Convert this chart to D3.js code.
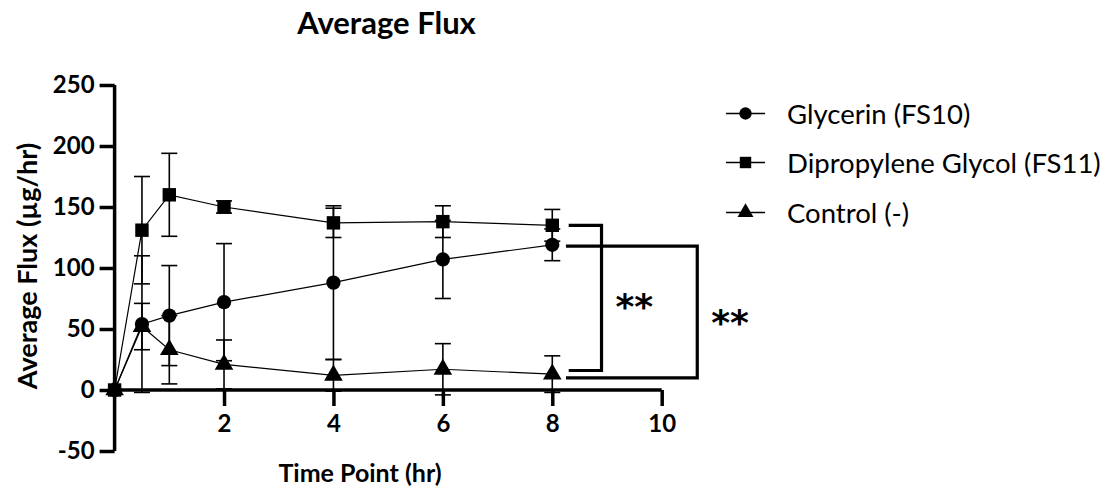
<!DOCTYPE html>
<html><head><meta charset="utf-8">
<script src="https://cdn.jsdelivr.net/npm/d3@7"></script>
<style>
html,body{margin:0;padding:0;background:#fff;}
svg{display:block;font-family:Lato,"Open Sans",sans-serif;}
</style></head>
<body>
<svg id="chart" width="1119" height="491"></svg>
<script>
const timePoints = [0, 0.5, 1, 2, 4, 6, 8];
const seriesNames = ["Glycerin (FS10)", "Dipropylene Glycol (FS11)", "Control (-)"];
const glycerin    = [0, 54, 61, 72, 88, 107, 119];
const glycerinErr = [0, 56, 41, 48, 63, 32, 13];
const dpg         = [0, 131, 160, 150, 137, 138, 135];
const dpgErr      = [0, 44, 34, 5, 12, 13, 13];
const control     = [0, 52, 33, 21, 12, 17, 13];
const controlErr  = [0, 19, 28, 20, 13, 21, 15];
const xTicks = [2, 4, 6, 8, 10];
const yTicks = [-50, 0, 50, 100, 150, 200, 250];
// significance brackets: [x start, x end, y top, y bottom] in data units
const brackets = [[8.3, 8.9, 135, 16], [8.25, 10.65, 118, 10]];
const sigLabels = [{x: 9.5, y: 72, t: "**"}, {x: 11.25, y: 59, t: "**"}];

const svg = d3.select("#chart");
const x = d3.scaleLinear().domain([0, 10]).range([114.6, 661.7]);
const y = d3.scaleLinear().domain([-50, 250]).range([451, 85]);

// title
svg.append("text").attr("x", 386.5).attr("y", 34).attr("text-anchor", "middle")
  .attr("font-weight", "bold").attr("font-size", 31).text("Average Flux");

// y axis
const yAxis = svg.append("g").attr("transform", `translate(${x(0)},0)`)
  .call(d3.axisLeft(y).tickValues(yTicks).tickSize(15).tickPadding(5).tickFormat(d => String(d)));
yAxis.select(".domain").attr("stroke", "#000").attr("stroke-width", 3.5).attr("d", `M0,${y(-50)}V${y(250)}`);
yAxis.selectAll(".tick line").attr("stroke", "#000").attr("stroke-width", 3.5);
yAxis.selectAll(".tick text").attr("font-size", 24).attr("font-weight", "bold").attr("fill", "#000").attr("font-family", "Lato");

// x axis
const xAxis = svg.append("g").attr("transform", `translate(0,${y(0)})`)
  .call(d3.axisBottom(x).tickValues(xTicks).tickSize(16).tickPadding(9).tickFormat(d => String(d)));
xAxis.select(".domain").attr("stroke", "#000").attr("stroke-width", 3.5).attr("d", `M${x(0)},0H${x(10)}`);
xAxis.selectAll(".tick line").attr("stroke", "#000").attr("stroke-width", 3.5);
xAxis.selectAll(".tick text").attr("font-size", 24).attr("font-weight", "bold").attr("fill", "#000").attr("font-family", "Lato");

// axis titles
svg.append("text").attr("transform", `translate(37,266) rotate(-90)`).attr("text-anchor", "middle")
  .attr("font-weight", "bold").attr("font-size", 27).text("Average Flux (µg/hr)");
svg.append("text").attr("x", 360).attr("y", 482).attr("text-anchor", "middle")
  .attr("font-weight", "bold").attr("font-size", 25).text("Time Point (hr)");

const series = [
  {name: seriesNames[2], v: control, e: controlErr, sym: d3.symbolTriangle, size: 150},
  {name: seriesNames[0], v: glycerin, e: glycerinErr, sym: d3.symbolCircle, size: 160},
  {name: seriesNames[1], v: dpg, e: dpgErr, sym: d3.symbolSquare, size: 180},
];

const line = d3.line().x((d, i) => x(timePoints[i])).y(d => y(d));
const g = svg.append("g");
series.forEach(s => {
  const eb = g.append("g").attr("stroke", "#000").attr("stroke-width", 1.6);
  s.v.forEach((v, i) => {
    if (!s.e[i]) return;
    const cx = x(timePoints[i]);
    eb.append("line").attr("x1", cx).attr("x2", cx).attr("y1", y(v - s.e[i])).attr("y2", y(v + s.e[i]));
    [v - s.e[i], v + s.e[i]].forEach(w => {
      eb.append("line").attr("x1", cx - 8).attr("x2", cx + 8).attr("y1", y(w)).attr("y2", y(w));
    });
  });
});
series.forEach(s => {
  g.append("path").attr("d", line(s.v)).attr("fill", "none").attr("stroke", "#000").attr("stroke-width", 1.2);
});
series.forEach(s => {
  g.selectAll(null).data(s.v).enter().append("path")
    .attr("transform", (d, i) => `translate(${x(timePoints[i])},${y(d)})`)
    .attr("d", d3.symbol().type(s.sym).size(s.size)).attr("fill", "#000");
});

// significance brackets
brackets.forEach(b => {
  svg.append("path").attr("fill", "none").attr("stroke", "#000").attr("stroke-width", 3.2)
    .attr("d", `M${x(b[0])},${y(b[2])}H${x(b[1])}V${y(b[3])}H${x(b[0])}`);
});
sigLabels.forEach(l => {
  svg.append("text").attr("x", x(l.x)).attr("y", y(l.y) + 17).attr("text-anchor", "middle")
    .attr("font-size", 36).attr("font-weight", "bold").attr("font-family", "DejaVu Sans").text(l.t);
});

// legend
const legendOrder = [
  {name: seriesNames[0], sym: d3.symbolCircle, size: 120},
  {name: seriesNames[1], sym: d3.symbolSquare, size: 130},
  {name: seriesNames[2], sym: d3.symbolTriangle, size: 110},
];
const legY = [113.5, 162.5, 212.5];
legendOrder.forEach((l, i) => {
  const lg = svg.append("g").attr("transform", `translate(0,${legY[i]})`);
  lg.append("line").attr("x1", 726).attr("x2", 765).attr("stroke", "#000").attr("stroke-width", 1.6);
  lg.append("path").attr("transform", "translate(745.5,0)").attr("d", d3.symbol().type(l.sym).size(l.size)).attr("fill", "#000");
  lg.append("text").attr("x", 787).attr("y", 10).attr("font-size", 27.5).attr("fill", "#000").text(l.name);
});
</script>
</body></html>
